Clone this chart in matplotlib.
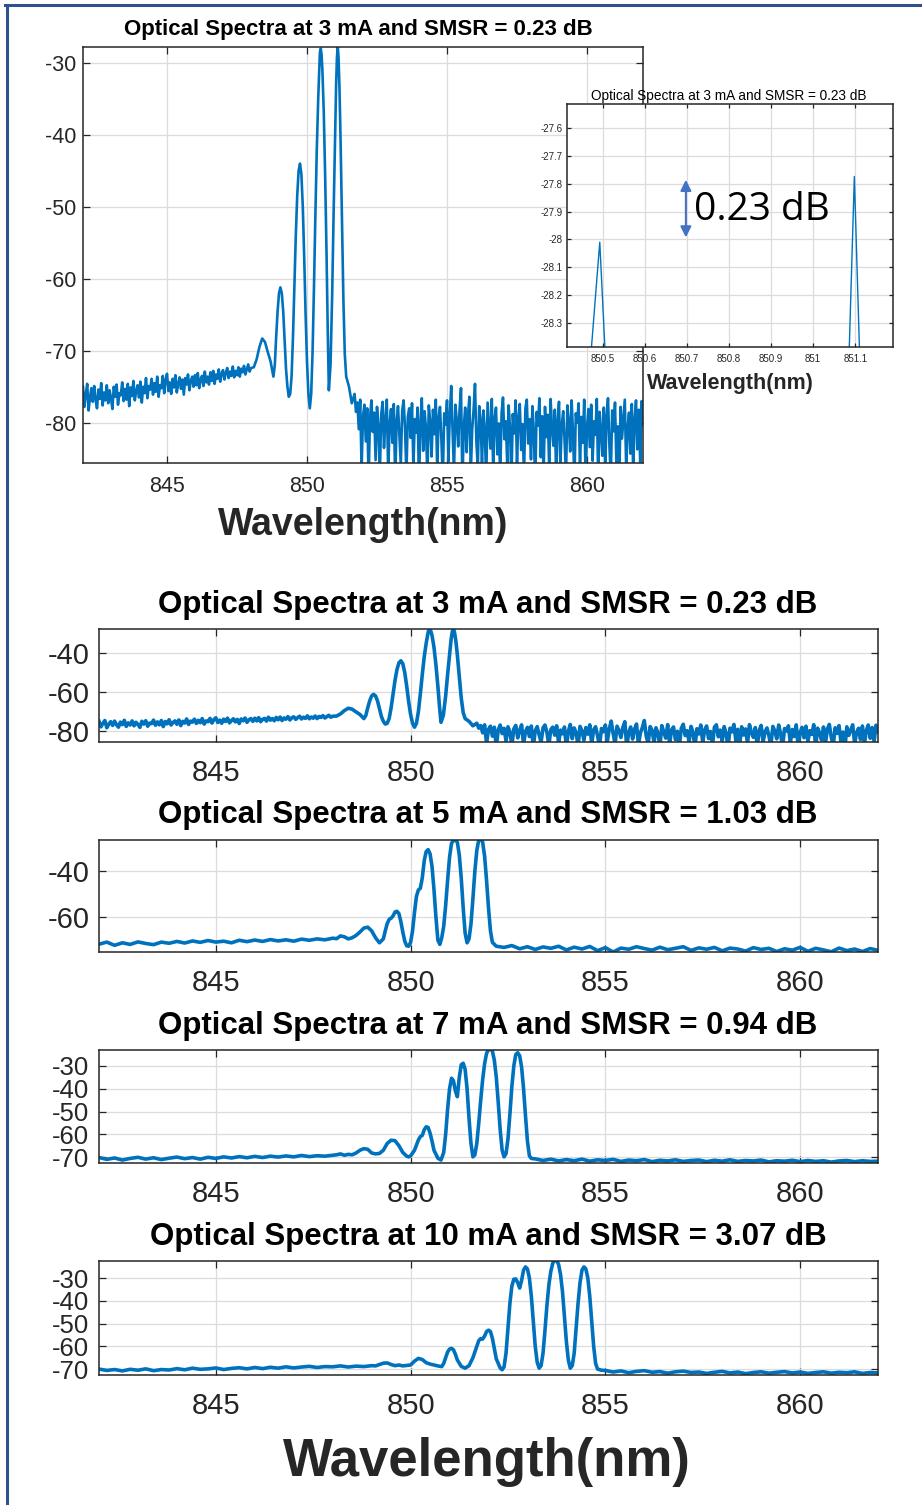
import numpy as np
import matplotlib.pyplot as plt
from matplotlib.lines import Line2D
from matplotlib.ticker import FuncFormatter

plt.rcParams['font.family'] = ['Liberation Sans', 'DejaVu Sans']
plt.rcParams['axes.unicode_minus'] = False

BLUE = '#0072BD'
DARK = '#262626'
GRID = '#DCDCDC'
FRAME = '#2F528F'

# ---- 3 mA spectrum (dBm), floors read every 0.05 nm ----
left_3ma = [-75.0, -77.8, -76.1, -74.6, -78.3, -76.5, -75.2, -77.1, -74.9, -76.8,
            -78.0, -75.4, -76.7, -74.5, -77.6, -75.8, -76.9, -74.8, -77.3, -75.5,
            -76.6, -78.1, -75.0, -76.4, -74.7, -77.5, -75.9, -76.2, -74.4, -77.0,
            -75.3, -76.8, -74.6, -77.7, -75.1, -76.3, -74.2, -76.9, -75.6, -74.8,
            -76.5, -74.3, -77.2, -75.0, -75.9, -73.8, -76.6, -74.9, -75.4, -73.9,
            -76.1, -74.5, -75.7, -73.6, -76.4, -74.8, -75.2, -73.5, -75.9, -74.1,
            -73.2, -75.6, -74.4, -76.0, -73.9, -75.1, -73.4, -75.8, -74.6, -73.7,
            -75.3, -74.0, -76.1, -73.8, -74.7, -73.3, -75.5, -74.2, -73.6, -75.0,
            -73.4, -74.8, -73.1, -75.2, -74.0, -73.5, -74.9, -72.9, -74.4, -73.6,
            -74.7, -73.0, -74.2, -72.8, -74.6, -73.3, -73.9, -72.6, -74.3, -73.2,
            -72.7, -74.0, -73.1, -72.4, -73.8, -72.9, -73.5, -72.2, -73.7, -72.8,
            -73.4, -72.3, -73.6, -72.5, -73.0, -72.1, -73.3, -72.6, -71.9, -72.9,
            -72.4]
peak_wl_3ma = [848.1, 848.2, 848.3, 848.4, 848.5, 848.6, 848.7, 848.8, 848.85, 848.9,
               848.95, 849.0, 849.05, 849.1, 849.15, 849.2, 849.25, 849.3, 849.35, 849.4,
               849.45, 849.5, 849.55, 849.6, 849.65, 849.7, 849.75, 849.8, 849.85, 849.9,
               849.95, 850.0, 850.05, 850.1, 850.15, 850.2, 850.25, 850.3, 850.35, 850.4,
               850.44, 850.46, 850.492, 850.52, 850.55, 850.6, 850.65, 850.7, 850.74, 850.78,
               850.84, 850.9, 850.95, 851.0, 851.04, 851.07, 851.098, 851.125, 851.16, 851.2,
               851.25, 851.3, 851.35, 851.4, 851.5, 851.6]
peak_p_3ma = [-72.3, -71.2, -69.5, -68.3, -68.8, -70.2, -71.5, -73.6, -72.0, -68.0,
              -64.5, -62.0, -61.2, -62.0, -64.5, -68.5, -72.5, -75.0, -76.4, -76.0,
              -73.5, -68.0, -61.0, -54.0, -48.5, -45.0, -44.0, -45.5, -50.0, -57.0,
              -65.0, -71.5, -76.0, -78.0, -76.0, -70.0, -61.0, -51.0, -42.0, -35.0,
              -30.5, -28.62, -28.01, -28.88, -31.0, -37.0, -46.0, -57.0, -67.0, -75.5,
              -72.0, -62.0, -51.0, -41.0, -33.0, -29.2, -27.774, -29.15, -33.5, -41.0,
              -52.0, -63.0, -70.5, -73.6, -75.0, -77.3]
right_3ma = [-76.0, -78.5, -77.2, -80.9, -76.8, -86.4, -79.1, -77.5, -82.6, -78.0,
             -88.1, -79.4, -76.9, -81.3, -78.6, -85.2, -77.8, -80.4, -87.6, -78.9,
             -77.1, -83.5, -79.6, -76.8, -86.9, -80.2, -78.1, -82.8, -77.4, -88.4,
             -79.8, -77.7, -81.9, -85.8, -78.3, -76.9, -80.7, -87.3, -79.2, -78.0,
             -82.1, -77.3, -86.2, -79.5, -81.4, -77.9, -88.6, -80.1, -76.6, -83.9,
             -78.4, -80.8, -87.8, -77.6, -79.9, -84.7, -78.2, -81.6, -76.8, -86.6,
             -79.3, -77.8, -82.4, -88.0, -78.7, -80.3, -76.9, -85.4, -79.0, -74.9,
             -81.2, -86.8, -77.5, -79.7, -83.3, -78.1, -75.2, -88.5, -80.6, -77.9,
             -84.1, -79.0, -76.4, -87.1, -80.9, -78.2, -74.6, -82.7, -86.3, -77.7,
             -79.6, -85.9, -78.3, -81.0, -88.2, -77.2, -80.5, -83.6, -76.7, -86.8,
             -79.4, -77.9, -84.4, -80.1, -87.7, -78.6, -76.5, -82.3, -79.8, -85.6,
             -77.6, -80.7, -88.3, -78.8, -81.5, -76.9, -86.0, -79.3, -77.4, -83.8,
             -80.2, -87.4, -78.0, -76.8, -82.9, -79.5, -85.1, -77.7, -81.1, -88.7,
             -78.5, -80.4, -76.6, -84.8, -79.1, -87.2, -77.8, -82.0, -78.9, -86.4,
             -76.7, -80.8, -83.2, -78.2, -88.0, -79.7, -77.1, -85.7, -80.3, -78.4,
             -82.5, -87.5, -77.6, -79.9, -84.0, -76.9, -81.4, -88.4, -78.7, -80.0,
             -77.3, -86.1, -79.2, -82.8, -76.8, -87.9, -80.6, -78.1, -83.4, -77.5,
             -85.3, -79.8, -81.7, -76.7, -88.2, -78.5, -80.9, -84.6, -77.9, -86.7,
             -79.0, -76.6, -83.1, -87.6, -78.3, -81.2, -77.2, -85.8, -80.5, -88.8,
             -77.8, -82.2, -79.4, -76.8, -86.5, -80.8, -78.6, -84.3, -77.4, -87.0,
             -79.6, -76.9, -83.7, -78.2, -85.5, -77.0, -80.3]

# ---- 5 mA spectrum ----
left_5ma = [-71.8, -70.9, -72.3, -71.2, -71.9, -70.8, -71.5, -72.0, -70.9, -71.4,
            -70.6, -71.3, -70.4, -71.0, -70.2, -70.9, -70.5, -71.2, -70.1, -70.7,
            -70.0, -70.6, -69.8, -70.4, -69.9, -70.5, -69.6, -70.1, -69.5, -69.9, -69.2]
peak_wl_5ma = [848.1, 848.2, 848.3, 848.4, 848.5, 848.6, 848.7, 848.8, 848.9, 849.0,
               849.1, 849.2, 849.3, 849.35, 849.4, 849.45, 849.5, 849.55, 849.6, 849.65,
               849.7, 849.75, 849.8, 849.85, 849.9, 849.95, 850.0, 850.05, 850.1, 850.15,
               850.2, 850.25, 850.3, 850.35, 850.4, 850.45, 850.5, 850.55, 850.6, 850.65,
               850.7, 850.75, 850.8, 850.85, 850.9, 850.95, 851.0, 851.05, 851.1, 851.15,
               851.2, 851.25, 851.3, 851.35, 851.4, 851.45, 851.5, 851.55, 851.6, 851.65,
               851.7, 851.75, 851.8, 851.85, 851.9, 851.95, 852.0, 852.05, 852.1, 852.2]
peak_p_5ma = [-69.4, -68.2, -68.6, -69.5, -69.0, -68.0, -66.5, -64.8, -64.4, -66.0,
              -69.0, -71.2, -69.5, -66.0, -62.8, -61.0, -60.5, -59.5, -57.8, -57.5,
              -58.5, -62.0, -66.5, -70.5, -72.5, -72.7, -71.0, -66.0, -58.0, -51.0,
              -48.2, -47.5, -43.0, -35.5, -31.5, -30.7, -32.5, -38.0, -48.0, -60.0,
              -70.0, -71.9, -69.0, -64.0, -55.0, -44.0, -34.0, -28.0, -26.7, -26.5,
              -27.5, -33.0, -43.0, -56.0, -67.0, -71.2, -69.5, -63.0, -52.0, -40.0,
              -31.0, -26.5, -25.5, -27.5, -33.5, -44.0, -56.0, -66.0, -71.0, -72.7]
right_5ma = [-73.2, -72.4, -73.8, -72.9, -74.1, -73.0, -73.6, -72.7, -74.3, -73.1,
             -73.9, -72.8, -74.6, -73.3, -75.2, -73.5, -74.0, -72.9, -73.7, -74.4,
             -73.1, -74.2, -73.6, -72.9, -74.5, -73.4, -74.0, -73.2, -74.7, -73.5,
             -73.9, -74.8, -73.3, -74.1, -73.6, -75.0, -73.8, -74.4, -73.2, -74.9,
             -73.6, -74.3, -75.1, -73.5, -74.6, -73.9, -75.0, -73.7, -74.5]

# ---- 7 mA spectrum ----
left_7ma = [-70.2, -71.0, -70.4, -71.3, -70.6, -70.1, -70.9, -70.3, -71.1, -70.5,
            -70.0, -70.7, -70.2, -70.9, -70.1, -70.6, -69.9, -70.4, -69.8, -70.3,
            -69.7, -70.2, -69.6, -70.0, -69.5, -69.9, -69.3, -69.8, -69.4, -69.6, -69.2]
peak_wl_7ma = [848.1, 848.2, 848.3, 848.4, 848.5, 848.6, 848.7, 848.8, 848.9, 849.0,
               849.1, 849.2, 849.3, 849.4, 849.5, 849.6, 849.7, 849.8, 849.9, 849.95,
               850.0, 850.1, 850.2, 850.25, 850.3, 850.35, 850.4, 850.45, 850.5, 850.55,
               850.6, 850.7, 850.78, 850.85, 850.9, 850.95, 851.0, 851.05, 851.1, 851.15,
               851.2, 851.25, 851.3, 851.35, 851.4, 851.45, 851.5, 851.55, 851.6, 851.65,
               851.7, 851.75, 851.8, 851.85, 851.9, 851.95, 852.0, 852.05, 852.1, 852.15,
               852.2, 852.25, 852.3, 852.35, 852.4, 852.45, 852.5, 852.55, 852.6, 852.65,
               852.7, 852.75, 852.8, 852.85, 852.9, 852.95, 853.0, 853.05, 853.1]
peak_p_7ma = [-69.0, -68.6, -69.2, -68.8, -69.0, -68.2, -67.0, -66.3, -66.6, -68.2,
              -68.6, -68.4, -67.0, -64.0, -62.6, -62.8, -65.0, -68.0, -69.6, -69.9,
              -69.5, -67.0, -62.5, -61.0, -60.5, -58.0, -56.7, -57.0, -59.5, -63.0,
              -67.0, -70.5, -71.3, -68.0, -60.0, -49.0, -40.0, -35.4, -36.5, -41.0,
              -43.5, -35.0, -29.5, -28.8, -31.5, -40.0, -53.0, -64.0, -69.9, -69.0,
              -64.0, -55.0, -45.0, -36.0, -29.0, -24.5, -22.8, -22.6, -23.5, -27.5,
              -35.0, -46.0, -58.0, -67.0, -69.9, -68.5, -62.0, -51.0, -39.0, -30.0,
              -25.0, -24.2, -25.5, -30.5, -40.0, -52.0, -63.0, -69.5, -70.6]
right_7ma = [-70.8, -71.5, -70.9, -71.7, -71.1, -71.6, -70.9, -71.8, -71.2, -71.5,
             -71.0, -71.9, -71.3, -71.6, -71.1, -72.0, -71.4, -71.7, -71.2, -71.9,
             -71.5, -71.3, -72.0, -71.4, -71.8, -71.2, -71.9, -71.5, -71.7, -71.3,
             -72.1, -71.6, -71.8, -71.4, -72.0, -71.5, -71.9, -71.6, -72.2, -71.7,
             -71.5, -72.0, -71.6, -71.9, -71.8]

# ---- 10 mA spectrum ----
left_10ma = [-70.0, -70.6, -70.2, -70.8, -70.1, -70.5, -69.9, -70.7, -70.2, -70.4,
             -69.8, -70.3, -69.6, -70.1, -69.9, -69.5, -70.2, -69.7, -69.4, -69.9,
             -69.3, -69.8, -69.2, -69.6, -69.0, -69.5, -69.1, -68.8, -69.3, -68.9,
             -69.0, -68.6, -69.1, -68.7, -68.9, -68.5]
peak_wl_10ma = [849.1, 849.2, 849.3, 849.4, 849.5, 849.6, 849.7, 849.8, 849.9, 850.0,
                850.1, 850.2, 850.3, 850.4, 850.5, 850.6, 850.7, 850.8, 850.85, 850.9,
                850.95, 851.0, 851.05, 851.1, 851.15, 851.2, 851.3, 851.4, 851.5, 851.6,
                851.7, 851.75, 851.8, 851.85, 851.9, 851.95, 852.0, 852.05, 852.1, 852.15,
                852.2, 852.3, 852.35, 852.4, 852.45, 852.5, 852.55, 852.6, 852.65, 852.7,
                852.75, 852.8, 852.85, 852.9, 852.95, 853.0, 853.05, 853.1, 853.15, 853.2,
                853.25, 853.3, 853.35, 853.4, 853.45, 853.5, 853.55, 853.6, 853.65, 853.7,
                853.75, 853.8, 853.85, 853.9, 853.95, 854.0, 854.05, 854.1, 854.15, 854.2,
                854.25, 854.3, 854.35, 854.4, 854.45, 854.5, 854.55, 854.6, 854.65, 854.7,
                854.75, 854.8, 854.9]
peak_p_10ma = [-68.6, -68.0, -67.4, -67.3, -68.0, -68.5, -68.2, -68.6, -68.4, -68.2,
               -66.5, -65.3, -65.8, -67.2, -67.8, -68.2, -68.6, -68.9, -67.5, -65.0,
               -62.5, -61.2, -60.9, -61.5, -63.5, -66.0, -68.8, -69.6, -68.5, -65.0,
               -60.0, -57.5, -56.6, -56.8, -55.5, -53.5, -52.9, -53.5, -56.5, -61.0,
               -65.5, -69.5, -70.3, -69.0, -63.0, -52.0, -41.0, -33.5, -30.5, -30.4,
               -32.0, -34.4, -31.0, -26.5, -25.1, -26.0, -30.0, -38.0, -49.0, -60.0,
               -67.0, -69.6, -68.5, -63.0, -53.0, -42.0, -33.0, -27.0, -23.5, -22.0,
               -22.3, -24.0, -28.5, -36.0, -47.0, -58.0, -66.0, -69.6, -68.5, -63.0,
               -52.0, -41.0, -32.0, -26.5, -25.1, -26.0, -30.0, -38.0, -49.0, -60.0,
               -67.5, -70.0, -70.5]
right_10ma = [-70.6, -71.3, -70.8, -71.6, -71.0, -70.7, -71.4, -71.1, -71.8, -71.2,
              -70.9, -71.5, -71.3, -71.9, -71.4, -71.0, -71.7, -71.3, -72.0, -71.5,
              -71.2, -71.8, -71.4, -71.1, -71.7, -71.3, -71.9, -71.5, -71.2, -71.8,
              -71.4, -71.6, -71.2, -71.9, -71.5, -71.7]

titles = ['Optical Spectra at 3 mA and SMSR = 0.23 dB',
          'Optical Spectra at 5 mA and SMSR = 1.03 dB',
          'Optical Spectra at 7 mA and SMSR = 0.94 dB',
          'Optical Spectra at 10 mA and SMSR = 3.07 dB']
x_ticks = [845, 850, 855, 860]
inset_xticks = [850.5, 850.6, 850.7, 850.8, 850.9, 851.0, 851.1]
inset_yticks = [-27.6, -27.7, -27.8, -27.9, -28.0, -28.1, -28.2, -28.3]


def build(l0, left, step_l, pk_wl, pk_p, r0, right, step_r):
    wl = np.concatenate([l0 + step_l * np.arange(len(left)), pk_wl,
                         r0 + step_r * np.arange(len(right))])
    p = np.concatenate([left, pk_p, right])
    return wl, p


wl3, p3 = build(842.0, left_3ma, 0.05, peak_wl_3ma, peak_p_3ma, 851.7, right_3ma, 0.05)
wl5, p5 = build(842.0, left_5ma, 0.2, peak_wl_5ma, peak_p_5ma, 852.4, right_5ma, 0.2)
wl7, p7 = build(842.0, left_7ma, 0.2, peak_wl_7ma, peak_p_7ma, 853.2, right_7ma, 0.2)
wl10, p10 = build(842.0, left_10ma, 0.2, peak_wl_10ma, peak_p_10ma, 855.0, right_10ma, 0.2)


def style(ax, fs, xpad, ypad, tlen=5, yfs=None):
    ax.grid(True, color=GRID, lw=0.9)
    ax.set_axisbelow(True)
    ax.tick_params(direction='in', top=True, right=True, length=tlen, width=0.9,
                   color=DARK, labelcolor=DARK, labelsize=fs)
    ax.tick_params(axis='x', pad=xpad)
    ax.tick_params(axis='y', pad=ypad, labelsize=yfs or fs)
    for s in ax.spines.values():
        s.set_color(DARK)
        s.set_linewidth(1.1)


W, H = 922, 1505
fig = plt.figure(figsize=(W / 100, H / 100), dpi=100)


def rect(x0, y0, x1, y1):
    return [x0 / W, 1 - y1 / H, (x1 - x0) / W, (y1 - y0) / H]


# ---- top: large plot ----
ax0 = fig.add_axes(rect(83, 47, 643, 463))
ax0.plot(wl3, p3, color=BLUE, lw=1.9)
ax0.set_xlim(842, 862)
ax0.set_ylim(-85.6, -27.8)
ax0.set_xticks(x_ticks)
ax0.set_yticks([-80, -70, -60, -50, -40, -30])
style(ax0, 15.5, 9, 5)
fig.text(358 / W, 1 - 29 / H, titles[0], ha='center', va='center',
         fontsize=16, fontweight='bold')
fig.text(363 / W, 1 - 525 / H, 'Wavelength(nm)', ha='center', va='center',
         fontsize=27, fontweight='bold', color=DARK)

# ---- inset zoom ----
axi = fig.add_axes(rect(567, 104, 893, 347))
axi.set_facecolor('white')
axi.plot(wl3, p3, color=BLUE, lw=1.0)
axi.set_xlim(850.414, 851.19)
axi.set_ylim(-28.386, -27.514)
axi.set_xticks(inset_xticks)
axi.set_yticks(inset_yticks)
fmt = FuncFormatter(lambda v, pos: f'{v:g}')
axi.xaxis.set_major_formatter(fmt)
axi.yaxis.set_major_formatter(fmt)
style(axi, 7, 5, 3, tlen=3)
axi.annotate('', xy=(850.697, -27.786), xytext=(850.697, -27.993),
             arrowprops=dict(arrowstyle='<|-|>', color='#4472C4', lw=1.5,
                             mutation_scale=16, shrinkA=0, shrinkB=0))
axi.text(850.716, -27.893, '0.23 dB', fontsize=28, family=['Open Sans', 'DejaVu Sans'],
         va='center', ha='left', color='black')
fig.text(729 / W, 1 - 96 / H, titles[0], ha='center', va='center', fontsize=9.8)
fig.text(730 / W, 1 - 383 / H, 'Wavelength(nm)', ha='center', va='center',
         fontsize=15.5, fontweight='bold', color=DARK)

# ---- lower stacked panels ----
panels = [
    (wl3, p3, (-85.6, -27.7), [-80, -60, -40], (629, 742), 605, 21),
    (wl5, p5, (-75.2, -26.5), [-60, -40], (840, 952), 815, 21),
    (wl7, p7, (-72.6, -23.0), [-70, -60, -50, -40, -30], (1050, 1163), 1026, 18.5),
    (wl10, p10, (-72.6, -22.5), [-70, -60, -50, -40, -30], (1261, 1375), 1237, 18.5),
]
for (wl, p, ylim, yt, (top, bot), ty, yfs), title in zip(panels, titles):
    ax = fig.add_axes(rect(99, top, 878, bot))
    ax.plot(wl, p, color=BLUE, lw=2.6)
    ax.set_xlim(842, 862)
    ax.set_ylim(*ylim)
    ax.set_xticks(x_ticks)
    ax.set_yticks(yt)
    style(ax, 21, 12, 7, yfs=yfs)
    fig.text(488 / W, 1 - ty / H, title, ha='center', va='center',
             fontsize=22.5, fontweight='bold')

fig.text(487 / W, 1 - 1462 / H, 'Wavelength(nm)', ha='center', va='center',
         fontsize=38, fontweight='bold', color=DARK)

# slide frame (top and left edges)
fig.add_artist(Line2D([5 / W, 1], [1 - 5 / H, 1 - 5 / H], color=FRAME, lw=2.2))
fig.add_artist(Line2D([7 / W, 7 / W], [0, 1 - 5 / H], color=FRAME, lw=2.2))

fig.savefig('out.png', dpi=100)
